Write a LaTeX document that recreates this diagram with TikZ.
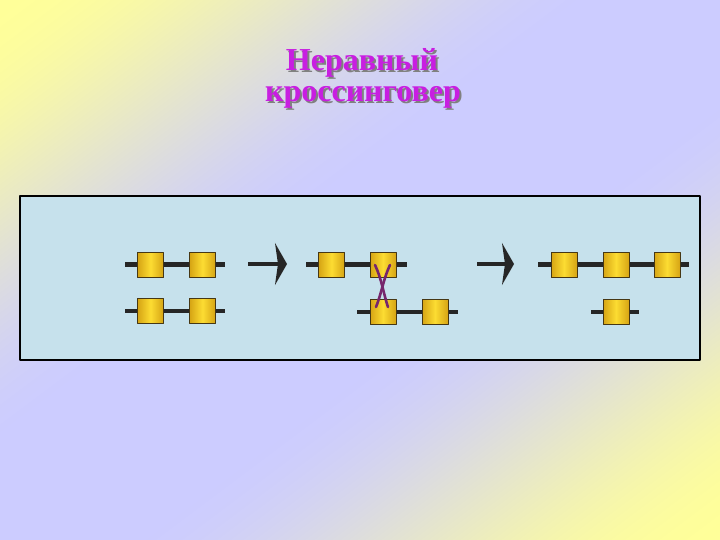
\documentclass[tikz,border=0pt]{standalone}
\usepackage{fontspec}
\setmainfont{Liberation Serif}
\usetikzlibrary{arrows.meta, calc}

\definecolor{panelblue}{RGB}{198,225,236}
\definecolor{genelight}{RGB}{252,220,50}
\definecolor{genedark}{RGB}{214,164,20}
\definecolor{geneedge}{RGB}{70,55,20}
\definecolor{titlecol}{RGB}{200,30,225}
\definecolor{crosscol}{RGB}{118,38,108}

% yellow in the corners, lilac along the other diagonal
\pgfdeclarefunctionalshading{slidebg}{\pgfpoint{0bp}{0bp}}{\pgfpoint{100bp}{100bp}}{}{
    25 sub 50 div 1 exch sub
    exch 25 sub 50 div
    add 2 div
    2 mul 1 sub abs 1 exch sub
    1.2 mul dup 1 gt {pop 1} if dup 0 lt {pop 0} if
    dup dup mul exch 2 mul 3 exch sub mul
    dup 0.4 mul 0.6 add
    exch 0.2 mul 1 exch sub
    dup
    3 -1 roll
}

% text with a grey drop shadow
\newcommand{\dropshadowed}[1]{\makebox[0pt][l]{\hspace{2pt}\raisebox{-2pt}{\textcolor{black!50}{#1}}}#1}

\begin{document}
\begin{tikzpicture}[line cap=butt,line join=round,x=1pt,y=-1pt,
    gene/.style={rectangle, draw=geneedge, line width=1pt, minimum width=26pt, minimum height=25pt, inner sep=0pt,
        left color=genedark, right color=genedark, middle color=genelight},
    chrom/.style={line width=4.5pt, draw=black!85},
    step arrow/.style={line width=4pt, draw=black!85, -{Stealth[length=12pt,width=42pt,inset=3pt]}},
    titletext/.style={font=\fontsize{32}{36}\selectfont\bfseries, text=titlecol, anchor=base, inner sep=0pt}]

    % background
    \shade[shading=slidebg] (0,0) rectangle (720,540);
    \useasboundingbox (0,0) rectangle (720,540);

    % title
    \node[titletext] (t1) at (362,71) {\dropshadowed{Неравный}};
    \node[titletext] (t2) at (363,102) {\dropshadowed{кроссинговер}};

    % panel
    \draw[line width=2pt, fill=panelblue] (20,196) rectangle (700,360);

    % before
    \coordinate (p1a) at (125,264.5);
    \coordinate (p1b) at (225,264.5);
    \coordinate (p2a) at (125,311);
    \coordinate (p2b) at (225,311);
    \draw[chrom] (p1a) -- (p1b);
    \draw[chrom] (p2a) -- (p2b);
    \draw (150.5,264.5) node[gene] (a1) {};
    \draw (202.5,264.5) node[gene] (a2) {};
    \draw (150.5,311) node[gene] (b1) {};
    \draw (202.5,311) node[gene] (b2) {};

    \coordinate (s1a) at (248,264);
    \coordinate (s1b) at (287,264);
    \draw[step arrow] (s1a) -- (s1b);

    % crossing over
    \coordinate (q1a) at (306,264.5);
    \coordinate (q1b) at (407,264.5);
    \coordinate (q2a) at (357,312);
    \coordinate (q2b) at (458,312);
    \draw[chrom] (q1a) -- (q1b);
    \draw[chrom] (q2a) -- (q2b);
    \draw (331.5,264.5) node[gene] (c1) {};
    \draw (383,264.5) node[gene] (c2) {};
    \draw (383,312) node[gene] (d1) {};
    \draw (435,312) node[gene] (d2) {};

    \coordinate (x1a) at (375,265);
    \coordinate (x1b) at (388,307);
    \coordinate (x2a) at (390,265);
    \coordinate (x2b) at (376,307);
    \draw[crosscol, line width=2.6pt, line cap=round] (x1a) .. controls (382,280) and (383,292) .. (x1b);
    \draw[crosscol, line width=2.6pt, line cap=round] (x2a) .. controls (383,280) and (382,292) .. (x2b);

    \coordinate (s2a) at (477,264);
    \coordinate (s2b) at (514,264);
    \draw[step arrow] (s2a) -- (s2b);

    % after
    \coordinate (r1a) at (538,264.5);
    \coordinate (r1b) at (689,264.5);
    \coordinate (r2a) at (591,312);
    \coordinate (r2b) at (639,312);
    \draw[chrom] (r1a) -- (r1b);
    \draw[chrom] (r2a) -- (r2b);
    \draw (564,264.5) node[gene] (e1) {};
    \draw (616,264.5) node[gene] (e2) {};
    \draw (667,264.5) node[gene] (e3) {};
    \draw (616,312) node[gene] (f1) {};

\end{tikzpicture}
\end{document}
